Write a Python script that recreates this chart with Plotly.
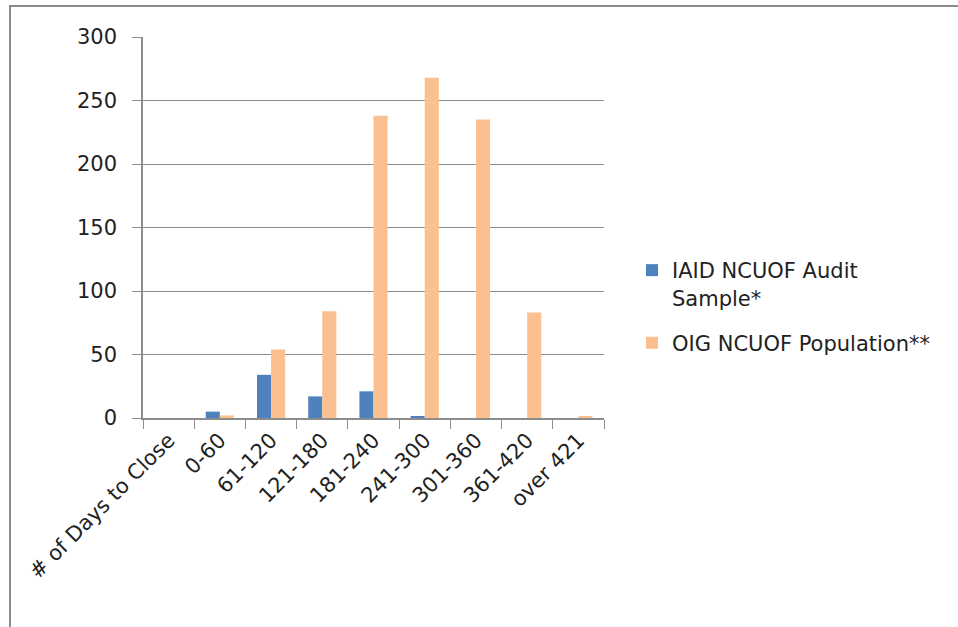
import plotly.graph_objects as go

# Days-to-close buckets (first slot is the axis caption category)
categories = ["# of Days to Close", "0-60", "61-120", "121-180", "181-240",
              "241-300", "301-360", "361-420", "over 421"]
audit_sample = [0, 5, 34, 17, 21, 1, 0, 0, 0]
oig_population = [0, 2, 54, 84, 238, 268, 235, 83, 1]
y_ticks = [0, 50, 100, 150, 200, 250, 300]

FONT = "DejaVu Sans"
TEXT = "#222222"
FS = 21

fig = go.Figure()
fig.add_trace(go.Bar(
    x=categories, y=audit_sample, name="IAID NCUOF Audit<br>Sample*",
    legendgroup="audit",
    marker=dict(color="#4F81BD", line=dict(width=0)),
))
fig.add_trace(go.Bar(
    x=categories, y=oig_population, name="OIG NCUOF Population**",
    legendgroup="population",
    marker=dict(color="#FAC090", line=dict(width=0)),
))

# plot area in pixels: x 143..604, y 37..418
L, R, T, B = 143, 604, 37, 418
W, H = 958, 627
pw, ph = R - L, B - T

def px_x(x):
    return (x - L) / pw

def px_y(y):
    return (B - y) / ph

# outer chart frame
fig.add_shape(type="rect", xref="paper", yref="paper",
              x0=px_x(10), x1=px_x(970), y0=px_y(640), y1=px_y(6),
              line=dict(color="#8c8c8c", width=2), fillcolor="rgba(0,0,0,0)")

fig.update_layout(
    width=W, height=H,
    margin=dict(l=L, r=W - R, t=T, b=H - B, autoexpand=False),
    paper_bgcolor="white", plot_bgcolor="white",
    barmode="group", bargap=0.45, bargroupgap=0.0,
    font=dict(family=FONT, size=FS, color=TEXT),
    showlegend=True,
    legend=dict(x=px_x(632), y=px_y(250), xanchor="left", yanchor="top",
                font=dict(family=FONT, size=FS, color=TEXT),
                traceorder="grouped", tracegroupgap=15, valign="top",
                bgcolor="rgba(0,0,0,0)"),
    xaxis=dict(
        type="category", tickangle=-45,
        showline=True, linecolor="#8c8c8c", linewidth=1.5,
        ticks="outside", tickson="boundaries", ticklen=9, tickcolor="#8c8c8c",
        tickfont=dict(family=FONT, size=FS, color=TEXT),
        showgrid=False, fixedrange=True,
    ),
    yaxis=dict(
        range=[0, 300], tickvals=y_ticks,
        showline=True, linecolor="#8c8c8c", linewidth=1.5,
        ticks="outside", ticklen=9, tickcolor="#8c8c8c",
        showgrid=True, gridcolor="#8c8c8c", gridwidth=1.2,
        zeroline=False,
        tickfont=dict(family=FONT, size=FS, color=TEXT),
        ticklabelstandoff=11,
    ),
)

fig.write_html("out.html")
